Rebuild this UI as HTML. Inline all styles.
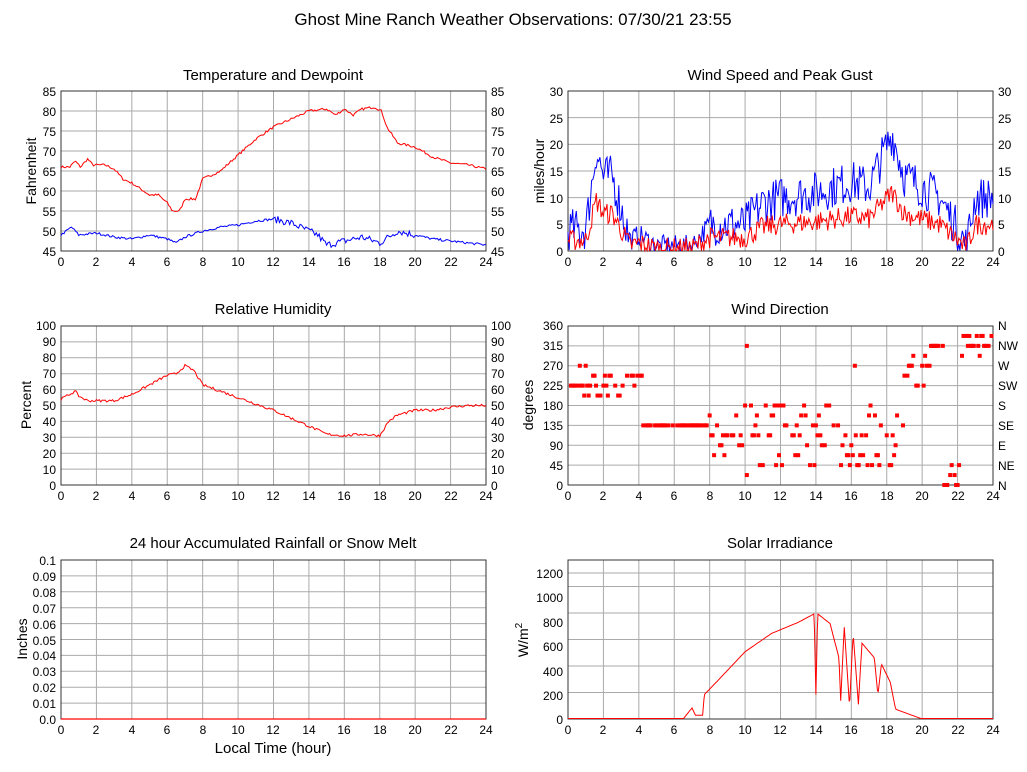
<!DOCTYPE html>
<html><head><meta charset="utf-8"><style>
html,body{margin:0;padding:0;background:#fff}
svg{display:block}
text{font-family:"Liberation Sans",sans-serif;fill:#000}
.t{font-size:12px}
.h{font-size:15px}
.a{font-size:14px}
</style></head><body>
<svg id="s" width="1027" height="772" xmlns="http://www.w3.org/2000/svg">
<text x="513" y="25" text-anchor="middle" style="font-size:17px">Ghost Mine Ranch Weather Observations: 07/30/21 23:55</text>
<text x="273" y="80" text-anchor="middle" class="h">Temperature and Dewpoint</text>
<text x="780" y="80" text-anchor="middle" class="h">Wind Speed and Peak Gust</text>
<text x="273" y="314" text-anchor="middle" class="h">Relative Humidity</text>
<text x="780" y="314" text-anchor="middle" class="h">Wind Direction</text>
<text x="273" y="548" text-anchor="middle" class="h">24 hour Accumulated Rainfall or Snow Melt</text>
<text x="780" y="548" text-anchor="middle" class="h">Solar Irradiance</text>
<text x="273" y="753" text-anchor="middle" class="a" style="font-size:15px">Local Time (hour)</text>
<text transform="translate(36,171) rotate(-90)" text-anchor="middle" class="a">Fahrenheit</text>
<text transform="translate(544,171) rotate(-90)" text-anchor="middle" class="a">miles/hour</text>
<text transform="translate(31,405) rotate(-90)" text-anchor="middle" class="a">Percent</text>
<text transform="translate(533,405) rotate(-90)" text-anchor="middle" class="a">degrees</text>
<text transform="translate(27,639) rotate(-90)" text-anchor="middle" class="a">Inches</text>
<text transform="translate(528,640) rotate(-90)" text-anchor="middle" class="a">W/m<tspan dy="-6" style="font-size:10px">2</tspan></text>
<g id="g"></g>
<g class="t" id="lab">
<g text-anchor="middle">
<text x="61" y="266">0</text><text x="96" y="266">2</text><text x="132" y="266">4</text><text x="167" y="266">6</text><text x="203" y="266">8</text><text x="238" y="266">10</text><text x="273" y="266">12</text><text x="309" y="266">14</text><text x="344" y="266">16</text><text x="380" y="266">18</text><text x="415" y="266">20</text><text x="451" y="266">22</text><text x="486" y="266">24</text>
<text x="568" y="266">0</text><text x="603" y="266">2</text><text x="639" y="266">4</text><text x="674" y="266">6</text><text x="710" y="266">8</text><text x="745" y="266">10</text><text x="780" y="266">12</text><text x="816" y="266">14</text><text x="851" y="266">16</text><text x="887" y="266">18</text><text x="922" y="266">20</text><text x="958" y="266">22</text><text x="993" y="266">24</text>
<text x="61" y="500">0</text><text x="96" y="500">2</text><text x="132" y="500">4</text><text x="167" y="500">6</text><text x="203" y="500">8</text><text x="238" y="500">10</text><text x="273" y="500">12</text><text x="309" y="500">14</text><text x="344" y="500">16</text><text x="380" y="500">18</text><text x="415" y="500">20</text><text x="451" y="500">22</text><text x="486" y="500">24</text>
<text x="568" y="500">0</text><text x="603" y="500">2</text><text x="639" y="500">4</text><text x="674" y="500">6</text><text x="710" y="500">8</text><text x="745" y="500">10</text><text x="780" y="500">12</text><text x="816" y="500">14</text><text x="851" y="500">16</text><text x="887" y="500">18</text><text x="922" y="500">20</text><text x="958" y="500">22</text><text x="993" y="500">24</text>
<text x="61" y="734">0</text><text x="96" y="734">2</text><text x="132" y="734">4</text><text x="167" y="734">6</text><text x="203" y="734">8</text><text x="238" y="734">10</text><text x="273" y="734">12</text><text x="309" y="734">14</text><text x="344" y="734">16</text><text x="380" y="734">18</text><text x="415" y="734">20</text><text x="451" y="734">22</text><text x="486" y="734">24</text>
<text x="568" y="734">0</text><text x="603" y="734">2</text><text x="639" y="734">4</text><text x="674" y="734">6</text><text x="710" y="734">8</text><text x="745" y="734">10</text><text x="780" y="734">12</text><text x="816" y="734">14</text><text x="851" y="734">16</text><text x="887" y="734">18</text><text x="922" y="734">20</text><text x="958" y="734">22</text><text x="993" y="734">24</text>
</g>
<g text-anchor="end">
<text x="56" y="96">85</text><text x="56" y="116">80</text><text x="56" y="136">75</text><text x="56" y="156">70</text><text x="56" y="176">65</text><text x="56" y="196">60</text><text x="56" y="216">55</text><text x="56" y="236">50</text><text x="56" y="256">45</text>
<text x="563" y="96">30</text><text x="563" y="123">25</text><text x="563" y="149">20</text><text x="563" y="176">15</text><text x="563" y="203">10</text><text x="563" y="229">5</text><text x="563" y="256">0</text>
<text x="56" y="330">100</text><text x="56" y="346">90</text><text x="56" y="362">80</text><text x="56" y="378">70</text><text x="56" y="394">60</text><text x="56" y="410">50</text><text x="56" y="426">40</text><text x="56" y="442">30</text><text x="56" y="458">20</text><text x="56" y="474">10</text><text x="56" y="490">0</text>
<text x="563" y="330">360</text><text x="563" y="350">315</text><text x="563" y="370">270</text><text x="563" y="390">225</text><text x="563" y="410">180</text><text x="563" y="430">135</text><text x="563" y="450">90</text><text x="563" y="470">45</text><text x="563" y="490">0</text>
<text x="56" y="565">0.1</text><text x="56" y="581">0.09</text><text x="56" y="597">0.08</text><text x="56" y="613">0.07</text><text x="56" y="629">0.06</text><text x="56" y="645">0.05</text><text x="56" y="660">0.04</text><text x="56" y="676">0.03</text><text x="56" y="692">0.02</text><text x="56" y="708">0.01</text><text x="56" y="724">0.0</text>
<text x="563" y="578">1200</text><text x="563" y="602">1000</text><text x="563" y="627">800</text><text x="563" y="651">600</text><text x="563" y="676">400</text><text x="563" y="700">200</text><text x="563" y="724">0</text>
</g>
<g text-anchor="start">
<text x="491" y="96">85</text><text x="491" y="116">80</text><text x="491" y="136">75</text><text x="491" y="156">70</text><text x="491" y="176">65</text><text x="491" y="196">60</text><text x="491" y="216">55</text><text x="491" y="236">50</text><text x="491" y="256">45</text>
<text x="998" y="96">30</text><text x="998" y="123">25</text><text x="998" y="149">20</text><text x="998" y="176">15</text><text x="998" y="203">10</text><text x="998" y="229">5</text><text x="998" y="256">0</text>
<text x="491" y="330">100</text><text x="491" y="346">90</text><text x="491" y="362">80</text><text x="491" y="378">70</text><text x="491" y="394">60</text><text x="491" y="410">50</text><text x="491" y="426">40</text><text x="491" y="442">30</text><text x="491" y="458">20</text><text x="491" y="474">10</text><text x="491" y="490">0</text>
<text x="998" y="330">N</text><text x="998" y="350">NW</text><text x="998" y="370">W</text><text x="998" y="390">SW</text><text x="998" y="410">S</text><text x="998" y="430">SE</text><text x="998" y="450">E</text><text x="998" y="470">NE</text><text x="998" y="490">N</text>
</g>
</g>
</svg>
<script>
var g=document.getElementById('g'),NS='http://www.w3.org/2000/svg';
function el(t,a){var e=document.createElementNS(NS,t);for(var k in a)e.setAttribute(k,a[k]);g.appendChild(e);return e;}
var seed=7;function rnd(){seed=(seed*16807)%2147483647;return seed/2147483647;}
function interp(pts,h){for(var i=0;i<pts.length-1;i++){if(h<=pts[i+1][0]){var a=pts[i],b=pts[i+1];return a[1]+(b[1]-a[1])*(h-a[0])/(b[0]-a[0]);}}return pts[pts.length-1][1];}
function panel(x0,y0,y1,nY){
 el('rect',{x:x0,y:y0,width:425,height:y1-y0,fill:'#fff'});
 for(var i=1;i<12;i++){var x=x0+i*425/12;el('line',{x1:x,x2:x,y1:y0,y2:y1,stroke:'#aaa','stroke-width':1});}
 for(var j=1;j<nY;j++){var y=y1-(y1-y0)*j/nY;el('line',{x1:x0,x2:x0+425,y1:y,y2:y,stroke:'#aaa','stroke-width':1});}
}
function frame(x0,y0,y1){el('rect',{x:x0,y:y0,width:425,height:y1-y0,fill:'none',stroke:'#333','stroke-width':1});}
function line(x0,y0,y1,mn,mx,f,col,n){var d='';n=n||288;for(var i=0;i<=n;i++){var h=24*i/n,v=f(h);var x=x0+h*425/24,y=y1-(v-mn)/(mx-mn)*(y1-y0);y=Math.max(y0,Math.min(y1-0.5,y));d+=(i?'L':'M')+x.toFixed(1)+' '+y.toFixed(1);}el('path',{d:d,fill:'none',stroke:col,'stroke-width':1});}
panel(61,91,251,8);
var T=[[0,66],[0.5,66],[0.8,67.5],[1.1,66],[1.5,68],[1.8,66.5],[2.5,66.5],[3,65.5],[3.5,63],[4,62],[5,59],[5.5,59],[6,57],[6.3,55],[6.7,55],[7,58],[7.6,58],[8,63],[9,65],[10,69],[11,73],[12,76],[13,78],[14,80],[15,80.5],[15.5,79],[16,80.5],[16.5,79],[17,80.5],[17.7,81],[18.1,80],[18.4,76],[19,72],[20,71],[21,68.5],[22,67],[23,66.5],[24,65.5]];
var D=[[0,49],[0.6,51],[1,49],[2,49.5],[3,48.5],[4,48],[5,49],[6,48],[6.5,47],[7,48.5],[8,50],[9,51],[10,51.5],[11,52.5],[12,53],[13,52],[14,50],[14.5,49],[15,46.5],[16,47.5],[17,48.5],[18,47],[19,50],[20,49],[21,48],[22,47.5],[23,47],[24,46.5]];
frame(61,91,251);
line(61,91,251,45,85,function(h){return interp(T,h)+(rnd()-0.5)*0.6;},'#f00');
line(61,91,251,45,85,function(h){return interp(D,h)+(rnd()-0.5)*(h>12&&h<20?1.8:0.6);},'#00f');
panel(568,91,251,6);
var G=[[0,4],[1,4],[1.6,19],[2,14],[2.5,14],[3,8],[3.5,2],[4,3],[5,1],[7,1],[8,5],[10,5],[11,9],[12,10],[14,11],[16,13],[17,12],[18.3,22],[19,14],[20,12],[21,10],[22,4],[22.5,1],[23,10],[24,10]];
frame(568,91,251);
line(568,91,251,0,30,function(h){var e=interp(G,h);return Math.max(0,e+(rnd()-0.5)*(h>3.5&&h<8?4:8));},'#00f',360);
line(568,91,251,0,30,function(h){var e=interp(G,h);return Math.max(0,e*0.5+(rnd()-0.5)*4);},'#f00',360);
panel(61,326,485,10);
var R=[[0,54],[0.8,59],[1,56],[1.5,53],[3,53],[4,57],[5,63],[6,69],[6.5,70],[7,75],[7.5,72],[8,63],[9,59],[10,55],[11,51],[12,47],[13,42],[14,37],[15,32],[16,31],[17,32],[18,31],[18.5,40],[19,44],[20,47],[21,47],[22,49],[23,50],[24,50]];
frame(61,326,485);
line(61,326,485,0,100,function(h){return interp(R,h)+(rnd()-0.5)*1.6;},'#f00');
panel(568,326,485,8);
frame(568,326,485);
function dot(h,v){var x=568+h*425/24,y=485-v/360*159;el('rect',{x:x-2,y:y-2,width:4,height:4,fill:'#f00'});}
for(var i=0;i<288;i++){var h=i/12,v,r=rnd();
 if(h<1.2)v=[225,270,202.5,225][Math.floor(r*4)];
 else if(h<4.2)v=r<0.6?247.5:(r<0.85?225:202.5);
 else if(h<8)v=135;
 else if(h<10)v=r<0.6?112.5:[67.5,90,135,157.5][Math.floor(rnd()*4)];
 else if(h<19)v=[45,67.5,90,112.5,112.5,135,157.5,180][Math.floor(r*8)];
 else if(h<20.5)v=r<0.6?270:[247.5,292.5,225][Math.floor(rnd()*3)];
 else if(h<21.2)v=315;
 else if(h<22.2)v=[0,22.5,45,0][Math.floor(r*4)];
 else v=[337.5,315,315,292.5][Math.floor(r*4)];
 if(rnd()<0.75)dot(h,v);}
dot(10.1,315);dot(10.1,22.5);dot(16.2,270);
panel(61,560,719,10);
frame(61,560,719);
el('line',{x1:61,x2:486,y1:719,y2:719,stroke:'#f00','stroke-width':1.2});
panel(568,560,719,6);
el('line',{x1:568,x2:993,y1:573,y2:573,stroke:'#aaa'});
frame(568,560,719);
var S=[[0,0],[6.5,0],[7,90],[7.2,30],[7.6,30],[7.7,200],[8.5,320],[10,550],[11.5,700],[13,790],[13.9,860],[14,200],[14.1,860],[14.8,780],[15.3,500],[15.4,150],[15.6,750],[15.9,100],[16.1,700],[16.4,120],[16.6,620],[17.3,500],[17.5,200],[17.7,450],[18.2,300],[18.5,80],[20,0],[24,0]];
line(568,560,719,0,1300,function(h){return interp(S,h);},'#f00',600);
</script>
</body></html>
